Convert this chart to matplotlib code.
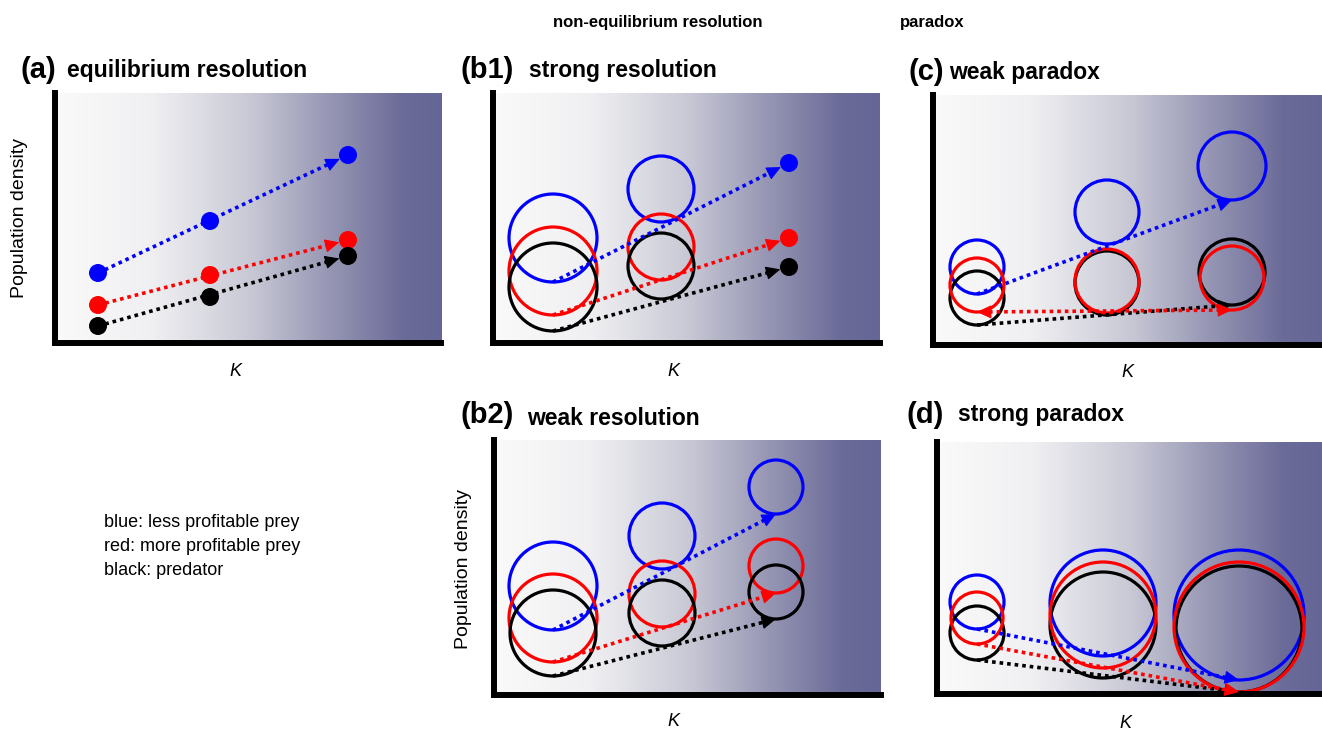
import numpy as np
import matplotlib.pyplot as plt
from matplotlib.patches import Circle
from matplotlib.colors import LinearSegmentedColormap

plt.rcParams['font.family'] = ['Liberation Sans', 'DejaVu Sans']

# figure size in pixels
W, H = 1322, 731

# ---- data: attractor centre (y) at three K levels, cycle radius (0 = stable point)
# units are pixels inside each panel, origin at the lower-left axes corner
a_K = [43, 155, 293]
a_blue = [70, 122, 188]
a_red = [38, 68, 103]
a_black = [17, 46, 87]
a_r = [0, 0, 0]

b1_K = [60, 168, 296]
b1_blue = [105, 154, 180]
b1_red = [72, 96, 105]
b1_black = [56, 77, 76]
b1_r_blue = [44, 33, 0]
b1_r_red = [44, 33, 0]
b1_r_black = [44, 33, 0]

b2_K = [59, 168, 282]
b2_blue = [109, 159, 208]
b2_red = [77, 101, 129]
b2_black = [62, 82, 103]
b2_r_blue = [44, 33, 27]
b2_r_red = [44, 33, 27]
b2_r_black = [43, 33, 27]

c_K = [44, 174, 299]
c_blue = [78, 133, 179]
c_red = [60, 64, 67]
c_black = [47, 62, 73]
c_r_blue = [27, 32, 34]
c_r_red = [27, 32, 32]
c_r_black = [27, 32, 33]

d_K = [40, 166, 302]
d_blue = [92, 91, 79]
d_red = [76, 79, 67]
d_black = [61, 69, 65]
d_r_blue = [27, 53, 65]
d_r_red = [26, 53, 65]
d_r_black = [27, 53, 63]

BLUE, RED, BLACK = '#0000ff', '#ff0000', '#000000'

# background gradient white -> slate purple
grad = LinearSegmentedColormap.from_list('bg', [
    (0.0, (0.98, 0.98, 0.98)),
    (0.25, (0.94, 0.94, 0.95)),
    (0.5, (0.79, 0.79, 0.84)),
    (0.72, (0.58, 0.58, 0.70)),
    (0.9, (0.42, 0.42, 0.60)),
    (1.0, (0.40, 0.40, 0.59)),
])


def fx(x):
    return x / W


def fy(y):
    return 1 - y / H


def make_panel(fig, x0, y0, x1, y1):
    ax = fig.add_axes([fx(x0), fy(y1), (x1 - x0) / W, (y1 - y0) / H])
    w, h = x1 - x0, y1 - y0
    ax.imshow(np.linspace(0, 1, 256).reshape(1, -1), cmap=grad, aspect='auto',
              extent=(0, w, 0, h), interpolation='bicubic', zorder=0)
    ax.set_xlim(0, w)
    ax.set_ylim(0, h)
    for s in ['top', 'right']:
        ax.spines[s].set_visible(False)
    for s in ['left', 'bottom']:
        ax.spines[s].set_linewidth(4.3)
        ax.spines[s].set_color('black')
    ax.set_xticks([])
    ax.set_yticks([])
    return ax


def head(ax, tip, base, color):
    ax.annotate('', xy=tip, xytext=base,
                arrowprops=dict(arrowstyle='-|>,head_length=0.9,head_width=0.42',
                                mutation_scale=10, color=color, lw=0.8,
                                shrinkA=0, shrinkB=0), zorder=3)


def draw_species(ax, K, y, r, color, both=False):
    for k, yy, rr in zip(K, y, r):
        if rr > 0:
            ax.add_patch(Circle((k, yy), rr, fill=False, ec=color, lw=2.3, zorder=2, clip_on=False))
        else:
            ax.add_patch(Circle((k, yy), 9, fc=color, ec='none', zorder=4))
    p0 = np.array([K[0], y[0] - r[0]], float)
    p1 = np.array([K[-1], y[-1] - r[-1]], float)
    d = (p1 - p0) / np.hypot(*(p1 - p0))
    tip = p1 - d * (9 if r[-1] == 0 else 0)
    hl = 12
    s = p0 + d * hl if both else p0
    e = tip - d * hl
    ax.plot([s[0], e[0]], [s[1], e[1]], color=color, lw=2.6,
            linestyle=(0, (1, 1.1)), dash_capstyle='butt', zorder=3)
    head(ax, tip, e, color)
    if both:
        head(ax, p0, s, color)


fig = plt.figure(figsize=(W / 100, H / 100), dpi=100)

# (a)
ax = make_panel(fig, 55, 93, 441, 343)
draw_species(ax, a_K, a_blue, a_r, BLUE)
draw_species(ax, a_K, a_red, a_r, RED)
draw_species(ax, a_K, a_black, a_r, BLACK)

# (b1)
ax = make_panel(fig, 493, 93, 880, 343)
draw_species(ax, b1_K, b1_blue, b1_r_blue, BLUE)
draw_species(ax, b1_K, b1_red, b1_r_red, RED)
draw_species(ax, b1_K, b1_black, b1_r_black, BLACK)

# (c)
ax = make_panel(fig, 933, 95, 1322, 345)
draw_species(ax, c_K, c_blue, c_r_blue, BLUE)
draw_species(ax, c_K, c_black, c_r_black, BLACK)
draw_species(ax, c_K, c_red, c_r_red, RED, both=True)

# (b2)
ax = make_panel(fig, 494, 440, 881, 695)
draw_species(ax, b2_K, b2_blue, b2_r_blue, BLUE)
draw_species(ax, b2_K, b2_red, b2_r_red, RED)
draw_species(ax, b2_K, b2_black, b2_r_black, BLACK)

# (d)
ax = make_panel(fig, 937, 442, 1322, 694)
draw_species(ax, d_K, d_blue, d_r_blue, BLUE)
draw_species(ax, d_K, d_black, d_r_black, BLACK)
draw_species(ax, d_K, d_red, d_r_red, RED)

# headers
fig.text(fx(553), fy(27), 'non-equilibrium resolution', fontsize=12, fontweight='bold', va='baseline')
fig.text(fx(900), fy(27), 'paradox', fontsize=12, fontweight='bold', va='baseline')

# panel titles: (letter, x, baseline, title, x, baseline)
titles = [('(a)', 20, 78, 'equilibrium resolution', 67, 77),
          ('(b1)', 460, 78, 'strong resolution', 529, 77),
          ('(c)', 908, 80, 'weak paradox', 949, 79),
          ('(b2)', 461, 423, 'weak resolution', 527, 425),
          ('(d)', 907, 423, 'strong paradox', 958, 421)]
for lab, lx, ly, t, tx, ty in titles:
    fig.text(fx(lx), fy(ly), lab, fontsize=21, fontweight='bold', va='baseline')
    fig.text(fx(tx), fy(ty), t, fontsize=16.5, fontweight='bold', va='baseline')

# axis labels
for x, y in [(235, 371), (673, 371), (1127, 372), (673, 722), (1125, 723)]:
    fig.text(fx(x), fy(y), 'K', fontsize=13, style='italic', ha='center', va='center')
fig.text(fx(20), fy(218), 'Population density', fontsize=14, rotation=90, ha='center', va='center')
fig.text(fx(463), fy(569), 'Population density', fontsize=14, rotation=90, ha='center', va='center')

# key
for i, s in enumerate(['blue: less profitable prey', 'red: more profitable prey', 'black: predator']):
    fig.text(fx(104), fy(527 + 24 * i), s, fontsize=13, va='baseline')

fig.savefig('out.png', dpi=100)
